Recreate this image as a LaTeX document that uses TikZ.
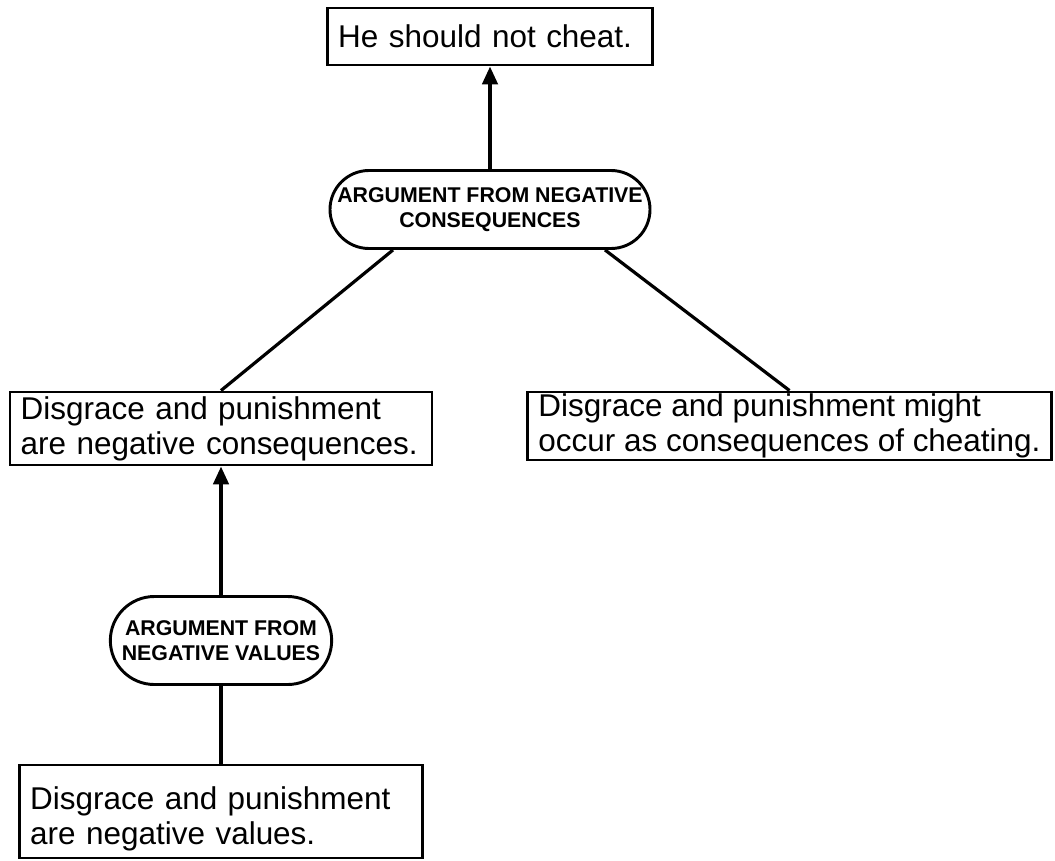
\documentclass[tikz,border=0pt]{standalone}
\usepackage{fontspec}
\setmainfont{Liberation Sans}
\usetikzlibrary{arrows.meta,shapes.misc,calc}
\hyphenpenalty=10000
\tikzset{
  claim/.style={draw, line width=2.2pt, inner xsep=8pt, inner ysep=0pt, align=left,
    font=\fontsize{23.6pt}{26.25pt}\selectfont},
  scheme/.style={draw, rounded rectangle, line width=2.2pt, inner xsep=6pt, inner ysep=0pt, align=center,
    font=\fontsize{16pt}{18.75pt}\selectfont\bfseries},
  link/.style={line width=2.4pt},
  support/.style={line width=2.8pt, -{Triangle[length=13.5pt,width=11.5pt]}}
}
\begin{document}
\begin{tikzpicture}[x=0.75pt,y=-0.75pt]
\useasboundingbox (0,0) rectangle (1055,860);
\node[claim, text width=227.75pt, minimum height=42.75pt] (top) at (490,36.5) {He should not cheat.};
\node[scheme, minimum width=252pt, minimum height=58.5pt] (arg1) at (490,209.5) {ARGUMENT FROM NEGATIVE\\CONSEQUENCES};
\node[claim, text width=300.5pt, minimum height=54.75pt] (cons) at (221,428.5) {Disgrace and punishment\\are negative consequences.};
\node[claim, minimum width=392.25pt, minimum height=51pt] (occ) at (789.5,426) {Disgrace and punishment might\\occur as consequences of cheating.};
\node[scheme, minimum width=178pt, minimum height=66pt] (arg2) at (221,640.5) {ARGUMENT FROM\\NEGATIVE VALUES};
\node[claim, text width=286.25pt, minimum height=69.75pt] (vals) at (221,811.5) {\rule{0pt}{28pt}Disgrace and punishment\\are negative values.};
\draw[support] (arg1.north) -- (top.south);
\draw[link] ($(arg1.south)+(-97,0)$) -- (cons.north);
\draw[link] ($(arg1.south)+(115,0)$) -- (occ.north);
\draw[support] (arg2.north) -- (cons.south);
\draw[link, line width=2.8pt] (vals.north) -- (arg2.south);
\end{tikzpicture}
\end{document}
